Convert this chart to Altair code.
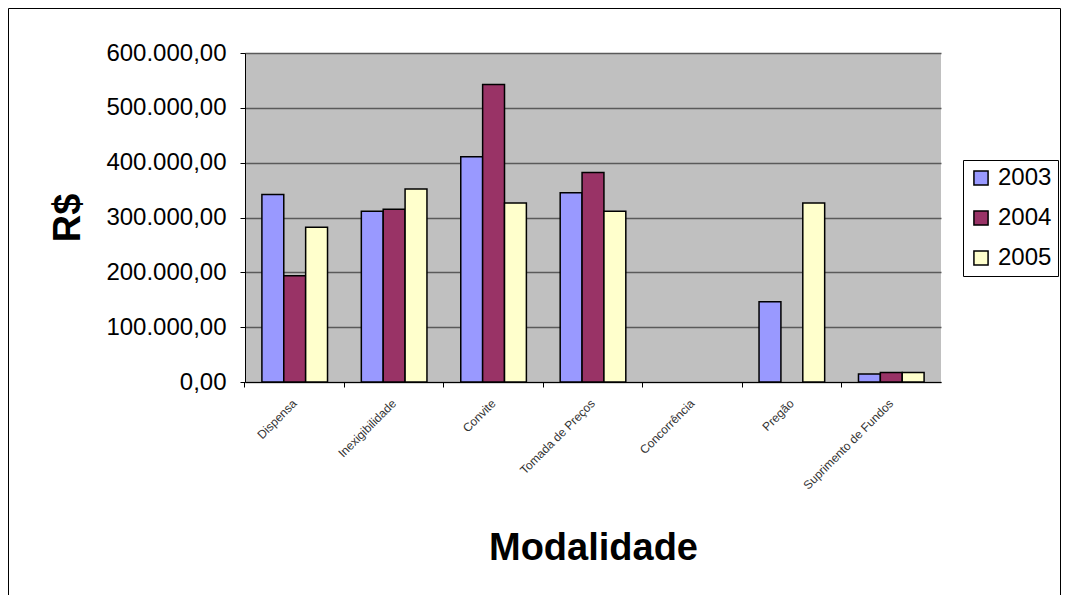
import altair as alt
import pandas as pd

categories = ["Dispensa", "Inexigibilidade", "Convite", "Tomada de Preços",
              "Concorrência", "Pregão", "Suprimento de Fundos"]
years = ["2003", "2004", "2005"]
v2003 = [342000, 311600, 410600, 345000, 0, 146500, 14500]
v2004 = [193800, 315000, 542500, 382000, 0, 0, 17500]
v2005 = [282000, 352000, 326500, 311600, 0, 326500, 17500]
colors = ["#9999FF", "#993366", "#FFFFCC"]

rows = []
for y, vals in zip(years, [v2003, v2004, v2005]):
    for c, v in zip(categories, vals):
        rows.append({"Modalidade": c, "Ano": y, "Valor": v})
df = pd.DataFrame(rows)

W, H = 696, 329
PL, PT, PR, PB = 237, 45, 120, 213
FONT = "Liberation Sans"

xscale = alt.Scale(domain=categories, paddingInner=0.34, paddingOuter=0.17)
yscale = alt.Scale(domain=[0, 600000], nice=False)

label_axis = alt.Axis(
    orient="bottom", title="Modalidade", titleFont=FONT, titleFontSize=38,
    titleFontWeight="bold", titleColor="black", titleBaseline="middle", titleY=166,
    labelAngle=-45, labelAlign="right", labelBaseline="middle", labelFontSize=12,
    labelFont=FONT, labelColor="#333333", labelPadding=19, ticks=False,
    domain=True, domainColor="black", domainWidth=1, grid=False,
)
tick_axis = alt.Axis(
    orient="bottom", title=None, labels=False, ticks=True, tickSize=5,
    tickColor="black", tickWidth=1, bandPosition=-0.258, domain=False, grid=False,
)
y_axis = alt.Axis(
    values=[0, 100000, 200000, 300000, 400000, 500000, 600000],
    labelExpr="datum.value == 0 ? '0,00' : format(datum.value/1000, 'd') + '.000,00'",
    labelFont=FONT, labelFontSize=24, labelColor="black", labelPadding=14,
    tickSize=5, tickColor="black", domainColor="black", domainWidth=1,
    grid=True, gridColor="#5a5a5a", gridWidth=1.5,
    title="R$", titleFont=FONT, titleFontSize=38, titleFontWeight="bold",
    titleColor="black", titleX=-177, titleAngle=-90, titleBaseline="middle",
)

bars = alt.Chart(df).transform_filter("datum.Valor > 0").mark_bar(
    stroke="black", strokeWidth=1.5
).encode(
    x=alt.X("Modalidade:N", sort=categories, scale=xscale, axis=label_axis),
    xOffset=alt.XOffset("Ano:N", sort=years, scale=alt.Scale(domain=years)),
    y=alt.Y("Valor:Q", scale=yscale, axis=y_axis),
    color=alt.Color("Ano:N", sort=years,
                    scale=alt.Scale(domain=years, range=colors),
                    legend=alt.Legend(
                        title=None, orient="none", legendX=718, legendY=107,
                        labelFont=FONT, labelFontSize=24, labelColor="black",
                        symbolType="square", symbolSize=200,
                        symbolStrokeColor="black", symbolStrokeWidth=1.5,
                        rowPadding=16, padding=6, strokeColor="black",
                        fillColor="white", labelOffset=5,
                    )),
)

ticks = alt.Chart(df).mark_point(opacity=0).encode(
    x=alt.X("Modalidade:N", sort=categories, scale=xscale, axis=tick_axis),
)

border = alt.Chart(pd.DataFrame({"k": [0]})).mark_rect(
    fill=None, stroke="black", strokeWidth=1
).encode(
    x=alt.value(-PL + 0.5), x2=alt.value(W + PR - 0.5),
    y=alt.value(-PT + 0.5), y2=alt.value(H + PB + 20),
)

chart = alt.layer(bars, ticks, border).resolve_axis(x="independent").properties(
    width=W, height=H,
    autosize=alt.AutoSizeParams(type="none"),
    padding={"left": PL, "top": PT, "right": PR, "bottom": PB},
    background="white",
).configure_view(fill="#C0C0C0", stroke=None)

chart.save("out.html", embed_options={"renderer": "svg", "actions": False})
